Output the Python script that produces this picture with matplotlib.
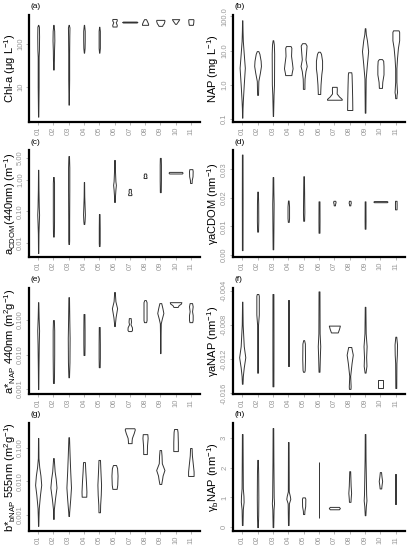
import numpy as np
import matplotlib
matplotlib.use("Agg")
import matplotlib.pyplot as plt

plt.rcParams['font.family'] = ['Liberation Sans', 'DejaVu Sans']
plt.rcParams['mathtext.fontset'] = 'custom'
plt.rcParams['mathtext.rm'] = 'Liberation Sans'
plt.rcParams['mathtext.it'] = 'Liberation Sans:italic'

# groups 01..11
groups = ["01", "02", "03", "04", "05", "06", "07", "08", "09", "10", "11"]

# each violin: y knots (top -> bottom) and relative density half-widths
chla_y = [[277, 250, 150, 72, 50, 10, 2.0], [277, 200, 120, 72, 40, 25],
          [277, 240, 150, 60, 15, 3.8], [277, 200, 120, 80, 62], [250, 200, 120, 80, 62],
          [380, 370, 345, 320, 300, 275, 253], [330, 322, 314],
          [376, 360, 330, 295, 277], [362, 340, 300, 275, 262],
          [376, 355, 330, 305, 292], [376, 365, 320, 285, 277]]
chla_w = [[0.01, 0.05, 0.06, 0.05, 0.03, 0.03, 0.01], [0.01, 0.05, 0.06, 0.04, 0.03, 0.01],
          [0.01, 0.05, 0.04, 0.03, 0.03, 0.01], [0.01, 0.05, 0.05, 0.04, 0.01], [0.01, 0.04, 0.04, 0.04, 0.01],
          [0.13, 0.15, 0.14, 0.08, 0.11, 0.15, 0.13], [0.45, 0.5, 0.45],
          [0.06, 0.09, 0.14, 0.2, 0.2], [0.26, 0.27, 0.22, 0.14, 0.12],
          [0.24, 0.2, 0.14, 0.07, 0.04], [0.15, 0.17, 0.16, 0.14, 0.13]]

nap_y = [[77, 40, 19, 8, 3.1, 1, 0.33, 0.2, 0.107], [9.6, 8, 5, 3.5, 2.2, 1.28, 0.8, 0.5],
         [20, 15, 8, 1, 0.5, 0.3, 0.12], [13.5, 12, 7, 4, 3, 2.2, 1.9],
         [16.4, 14, 8, 5.5, 3.5, 2.5, 1.5, 1.0, 0.75], [9.2, 8, 5, 3, 2, 1, 0.6, 0.53],
         [0.86, 0.75, 0.55, 0.45, 0.38, 0.36], [2.3, 2.0, 1.0, 0.4, 0.18],
         [45, 30, 20, 9.6, 4, 1.5, 0.5, 0.15], [5.6, 5, 3.5, 2, 1.2, 0.8],
         [39, 35, 20, 12, 6, 3, 1.2, 0.6, 0.5, 0.4]]
nap_w = [[0.01, 0.02, 0.04, 0.1, 0.17, 0.1, 0.04, 0.02, 0.01], [0.05, 0.12, 0.2, 0.22, 0.15, 0.05, 0.04, 0.03],
         [0.02, 0.06, 0.08, 0.07, 0.04, 0.03, 0.01], [0.15, 0.2, 0.18, 0.25, 0.28, 0.22, 0.2],
         [0.1, 0.19, 0.15, 0.12, 0.2, 0.12, 0.06, 0.05, 0.05], [0.06, 0.13, 0.2, 0.2, 0.15, 0.1, 0.08, 0.08],
         [0.15, 0.16, 0.15, 0.3, 0.48, 0.48], [0.1, 0.12, 0.14, 0.16, 0.17],
         [0.02, 0.05, 0.12, 0.2, 0.12, 0.04, 0.03, 0.02], [0.1, 0.18, 0.2, 0.2, 0.12, 0.1],
         [0.18, 0.22, 0.22, 0.14, 0.08, 0.04, 0.04, 0.08, 0.05, 0.04]]

acdom_y = [[2.1, 0.5, 0.14, 0.08, 0.043, 0.02, 0.0048], [1.24, 0.8, 0.3, 0.05, 0.02, 0.016],
           [5.7, 2.5, 0.5, 0.05, 0.012, 0.0093], [0.86, 0.3, 0.15, 0.08, 0.05, 0.04],
           [0.083, 0.03, 0.01, 0.008], [4.3, 2, 0.9, 0.7, 0.5, 0.3, 0.2],
           [0.52, 0.45, 0.4, 0.36, 0.33], [1.6, 1.45, 1.35, 1.2, 1.15],
           [5.0, 3.0, 1.0, 0.41], [1.8, 1.7, 1.6], [2.2, 1.9, 1.3, 1.0, 0.8]]
acdom_w = [[0.01, 0.02, 0.04, 0.06, 0.04, 0.02, 0.01], [0.02, 0.04, 0.04, 0.04, 0.03, 0.02],
           [0.02, 0.04, 0.04, 0.03, 0.03, 0.02], [0.01, 0.02, 0.04, 0.06, 0.04, 0.02],
           [0.02, 0.03, 0.03, 0.02], [0.02, 0.03, 0.06, 0.09, 0.06, 0.03, 0.02],
           [0.06, 0.08, 0.06, 0.11, 0.1], [0.06, 0.09, 0.07, 0.1, 0.09],
           [0.03, 0.04, 0.04, 0.03], [0.42, 0.46, 0.42], [0.1, 0.12, 0.11, 0.06, 0.05]]

gacdom_y = [[0.0352, 0.02, 0.0017], [0.0222, 0.018, 0.012, 0.0082],
            [0.0273, 0.022, 0.018, 0.008, 0.002], [0.0191, 0.017, 0.013, 0.0116],
            [0.0276, 0.02, 0.015, 0.012], [0.0188, 0.012, 0.0078],
            [0.019, 0.0185, 0.018, 0.0174], [0.019, 0.0183, 0.0178, 0.0174],
            [0.0188, 0.012, 0.0092], [0.0189, 0.0187, 0.0185], [0.019, 0.0175, 0.016]]
gacdom_w = [[0.02, 0.025, 0.02], [0.02, 0.04, 0.045, 0.03],
            [0.02, 0.03, 0.045, 0.03, 0.02], [0.02, 0.05, 0.05, 0.03],
            [0.02, 0.035, 0.045, 0.03], [0.03, 0.035, 0.03],
            [0.06, 0.08, 0.05, 0.04], [0.05, 0.07, 0.04, 0.04],
            [0.025, 0.03, 0.025], [0.42, 0.46, 0.42], [0.05, 0.055, 0.05]]

anap_y = [[0.33, 0.12, 0.05, 0.02, 0.0036, 0.001], [0.1, 0.05, 0.01, 0.003, 0.0015],
          [0.46, 0.1, 0.03, 0.006, 0.0022], [0.15, 0.05, 0.02, 0.0097],
          [0.063, 0.02, 0.008, 0.0043], [0.65, 0.35, 0.22, 0.12, 0.08, 0.067],
          [0.114, 0.09, 0.075, 0.062, 0.052, 0.048], [0.38, 0.33, 0.15, 0.1, 0.087],
          [0.31, 0.22, 0.16, 0.11, 0.08, 0.04, 0.011], [0.33, 0.3, 0.27, 0.24],
          [0.31, 0.25, 0.18, 0.14, 0.1, 0.087]]
anap_w = [[0.01, 0.03, 0.06, 0.04, 0.02, 0.01], [0.03, 0.05, 0.05, 0.04, 0.03],
          [0.02, 0.04, 0.06, 0.05, 0.02], [0.03, 0.04, 0.04, 0.03],
          [0.03, 0.04, 0.04, 0.03], [0.02, 0.06, 0.17, 0.07, 0.03, 0.02],
          [0.06, 0.08, 0.05, 0.14, 0.15, 0.1], [0.05, 0.1, 0.1, 0.1, 0.07],
          [0.06, 0.14, 0.2, 0.1, 0.03, 0.02, 0.01], [0.38, 0.35, 0.2, 0.14],
          [0.08, 0.12, 0.08, 0.12, 0.12, 0.09]]

ganap_y = [[-0.0053, -0.008, -0.0105, -0.0118, -0.013, -0.014, -0.0149],
           [-0.0044, -0.0046, -0.0068, -0.008, -0.0136], [-0.0044, -0.01, -0.0152],
           [-0.0051, -0.0128], [-0.0098, -0.0102, -0.012, -0.0133, -0.0135],
           [-0.0041, -0.009, -0.0105, -0.0115, -0.0135], [-0.0081, -0.0085, -0.0089],
           [-0.0106, -0.0115, -0.0125, -0.014, -0.0152, -0.0155],
           [-0.0059, -0.009, -0.0105, -0.0118, -0.0128, -0.0136],
           [-0.0145, -0.015, -0.0154], [-0.0094, -0.0103, -0.0115, -0.0125, -0.0154]]
ganap_w = [[0.01, 0.03, 0.1, 0.2, 0.1, 0.04, 0.02],
           [0.05, 0.08, 0.08, 0.03, 0.03], [0.03, 0.035, 0.03],
           [0.03, 0.03], [0.03, 0.08, 0.09, 0.07, 0.04],
           [0.03, 0.04, 0.08, 0.06, 0.03], [0.36, 0.3, 0.22],
           [0.1, 0.2, 0.12, 0.03, 0.06, 0.05],
           [0.02, 0.04, 0.1, 0.07, 0.09, 0.03],
           [0.18, 0.18, 0.18], [0.03, 0.08, 0.07, 0.04, 0.03]]

bbnap_y = [[0.2, 0.05, 0.027, 0.015, 0.0079, 0.004, 0.0016, 0.0008, 0.00047],
           [0.05, 0.02, 0.012, 0.0066, 0.003, 0.0015, 0.00076],
           [0.21, 0.06, 0.02, 0.0066, 0.003, 0.0012, 0.00093],
           [0.038, 0.02, 0.01, 0.005, 0.0035], [0.044, 0.02, 0.008, 0.004, 0.002, 0.0012],
           [0.031, 0.025, 0.015, 0.008, 0.006], [0.39, 0.36, 0.28, 0.2, 0.16, 0.14],
           [0.26, 0.2, 0.12, 0.08, 0.066],
           [0.087, 0.06, 0.035, 0.022, 0.015, 0.012, 0.0095, 0.0084],
           [0.37, 0.3, 0.15, 0.09, 0.081], [0.1, 0.06, 0.03, 0.02, 0.0146]]
bbnap_w = [[0.01, 0.02, 0.07, 0.15, 0.2, 0.12, 0.04, 0.02, 0.01],
           [0.02, 0.08, 0.15, 0.2, 0.1, 0.03, 0.02],
           [0.02, 0.06, 0.1, 0.15, 0.1, 0.03, 0.02],
           [0.06, 0.09, 0.13, 0.16, 0.15], [0.05, 0.08, 0.12, 0.1, 0.06, 0.05],
           [0.1, 0.17, 0.2, 0.18, 0.14], [0.3, 0.33, 0.26, 0.14, 0.12, 0.12],
           [0.15, 0.17, 0.13, 0.12, 0.12],
           [0.05, 0.08, 0.1, 0.27, 0.15, 0.12, 0.08, 0.06],
           [0.1, 0.13, 0.15, 0.15, 0.15], [0.05, 0.07, 0.14, 0.18, 0.18]]

gbnap_y = [[3.13, 1.3, 1.05, 0.85, 0.6, 0.07], [2.26, 1.8, 1.0, 0.4, 0.0],
           [3.33, 2.2, 1.0, 0.8, 0.6, 0.0], [2.86, 1.2, 1.05, 0.95, 0.8, 0.07],
           [1.0, 0.95, 0.7, 0.55, 0.44], [2.19, 0.3], [0.68, 0.64, 0.6],
           [1.88, 1.4, 1.15, 0.95, 0.85], [3.13, 2.3, 1.1, 0.9, 0.7, 0.4],
           [1.85, 1.7, 1.55, 1.4, 1.3], [1.78, 0.77]]
gbnap_w = [[0.02, 0.04, 0.08, 0.09, 0.04, 0.02], [0.02, 0.04, 0.05, 0.04, 0.02],
           [0.02, 0.03, 0.05, 0.07, 0.04, 0.02], [0.02, 0.03, 0.1, 0.13, 0.04, 0.02],
           [0.08, 0.11, 0.1, 0.05, 0.04], [0.025, 0.025], [0.3, 0.36, 0.3],
           [0.03, 0.06, 0.09, 0.06, 0.05], [0.02, 0.03, 0.07, 0.09, 0.05, 0.02],
           [0.04, 0.07, 0.11, 0.07, 0.05], [0.04, 0.04]]

W, H = 415, 550
fig = plt.figure(figsize=(W / 100, H / 100), dpi=100)

cols = [(29, 171), (233, 172)]
rows = [(15, 122), (150, 257), (288, 394), (423, 531)]

panels = [
    ("(a)", chla_y, chla_w, True, (1.5, 470), [10, 100], ["10", "100"],
     "Chl-a (μg L$^{-1}$)"),
    ("(b)", nap_y, nap_w, True, (0.08, 110), [0.1, 1, 10, 100], ["0.1", "1.0", "10.0", "100.0"],
     "NAP (mg L$^{-1}$)"),
    ("(c)", acdom_y, acdom_w, True, (0.0036, 8.9), [0.01, 0.1, 1, 5], ["0.01", "0.10", "1.00", "5.00"],
     "a$_{\\mathrm{CDOM}}$(440nm) (m$^{-1}$)"),
    ("(d)", gacdom_y, gacdom_w, False, (-0.0007, 0.0368), [0, 0.01, 0.02, 0.03],
     ["0.00", "0.01", "0.02", "0.03"], "γaCDOM (nm$^{-1}$)"),
    ("(e)", anap_y, anap_w, True, (0.00072, 0.85), [0.001, 0.01, 0.1], ["0.001", "0.010", "0.100"],
     "a*$_{\\mathrm{NAP}}$ 440nm (m$^{2}$g$^{-1}$)"),
    ("(f)", ganap_y, ganap_w, False, (-0.0161, -0.0037), [-0.016, -0.012, -0.008, -0.004],
     ["-0.016", "-0.012", "-0.008", "-0.004"], "γaNAP (nm$^{-1}$)"),
    ("(g)", bbnap_y, bbnap_w, True, (0.00033, 0.56), [0.001, 0.01, 0.1], ["0.001", "0.010", "0.100"],
     "b*$_{\\mathrm{bNAP}}$ 555nm (m$^{2}$g$^{-1}$)"),
    ("(h)", gbnap_y, gbnap_w, False, (-0.13, 3.5), [0, 1, 2, 3], ["0", "1", "2", "3"],
     "γ$_{\\mathrm{b}}$NAP (nm$^{-1}$)"),
]

for k, (tag, ys, ws, logy, ylim, ticks, ticklabels, ylabel) in enumerate(panels):
    left, width = cols[k % 2]
    top, bottom = rows[k // 2]
    ax = fig.add_axes([left / W, 1 - bottom / H, width / W, (bottom - top) / H])
    if logy:
        ax.set_yscale("log")

    for i in range(len(groups)):
        y = np.array(ys[i])
        w = np.array(ws[i])
        ax.fill_betweenx(y, i + 1 - w, i + 1 + w, facecolor="white",
                         edgecolor="#333333", linewidth=0.7)

    ax.set_xlim(0.4, 11.6)
    ax.set_ylim(*ylim)
    ax.set_xticks(range(1, 12))
    ax.set_xticklabels(groups, rotation=90)
    ax.set_yticks(ticks)
    ax.set_yticklabels(ticklabels, rotation=90, va="center")
    ax.minorticks_off()
    ax.tick_params(labelsize=5.5, labelcolor="#9a9a9a", color="#9a9a9a", length=2, width=0.5, pad=1.5)

    for s in ["top", "right"]:
        ax.spines[s].set_visible(False)
    for s in ["left", "bottom"]:
        ax.spines[s].set_linewidth(1.6)
        ax.spines[s].set_color("black")

    ax.set_ylabel(ylabel, fontsize=8)
    ax.yaxis.label.set_va("center")
    lx = 10 if k % 2 == 0 else 213
    ax.yaxis.set_label_coords((lx - left) / width, 0.5)
    ax.text(0.01, 1 + 8 / (bottom - top), tag, transform=ax.transAxes,
            fontsize=6, ha="left", va="center")

fig.savefig("out.png", dpi=100)
